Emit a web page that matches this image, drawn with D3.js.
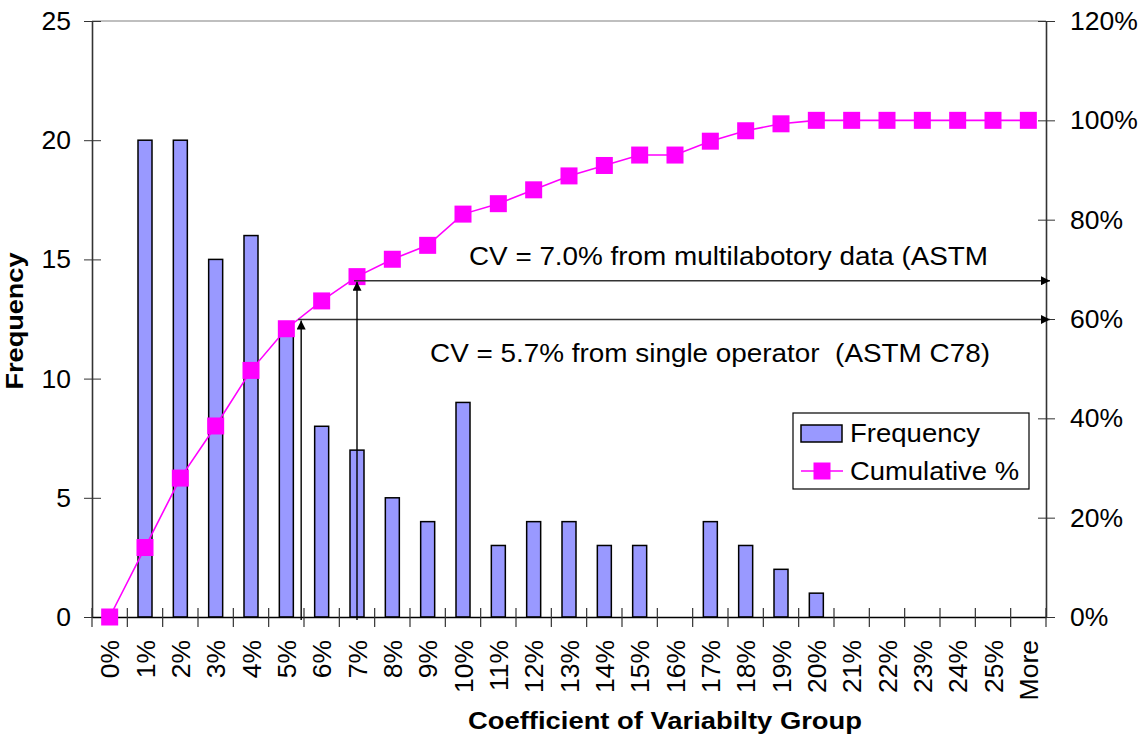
<!DOCTYPE html>
<html>
<head>
<meta charset="utf-8">
<script src="https://cdn.jsdelivr.net/npm/d3@7"></script>
<style>
  body { margin: 0; background: #fff; }
  svg { font-family: "Liberation Sans", Arial, sans-serif; }
  text { white-space: pre; }
</style>
</head>
<body>
<svg id="chart" width="1146" height="749"></svg>
<script>
// histogram of CV groups + cumulative %
var categories = ["0%","1%","2%","3%","4%","5%","6%","7%","8%","9%","10%","11%","12%","13%",
                  "14%","15%","16%","17%","18%","19%","20%","21%","22%","23%","24%","25%","More"];
var frequency = [0,20,20,15,16,12,8,7,5,4,9,3,4,4,3,3,0,4,3,2,1,0,0,0,0,0,0];
var cumulative = [0,13.99,27.97,38.46,49.65,58.04,63.64,68.53,72.03,74.83,81.12,83.22,86.01,88.81,
                  90.91,93.01,93.01,95.80,97.90,99.30,100,100,100,100,100,100,100];
var leftTicks = [0,5,10,15,20,25];
var rightTicks = [0,20,40,60,80,100,120];

// annotation arrows: x in category index units, y in cumulative %
var notes = [
  { idx: 5.42, pct: 59.9, label: "CV = 5.7% from single operator  (ASTM C78)" },
  { idx: 7.0,  pct: 67.7, label: "CV = 7.0% from multilabotory data (ASTM" }
];

var svg = d3.select("#chart");
var L = 92, R = 1046, T = 21, B = 617;

var x = d3.scaleBand().domain(categories).range([L, R]).padding(0);
var xi = d3.scaleLinear().domain([0, 1]).range([L + x.bandwidth() / 2, L + x.bandwidth() * 1.5]);
var yL = d3.scaleLinear().domain([0, 25]).range([B, T]);
var yR = d3.scaleLinear().domain([0, 120]).range([B, T]);

// top border
svg.append("line").attr("x1", L).attr("x2", R).attr("y1", T).attr("y2", T)
  .attr("stroke", "#808080").attr("stroke-width", 1.2);

// bars
var barW = 14;
svg.append("g").selectAll("rect")
  .data(frequency.map(function(v, i){ return { c: categories[i], v: v }; }).filter(function(d){ return d.v > 0; }))
  .enter().append("rect")
  .attr("x", function(d){ return x(d.c) + x.bandwidth() / 2 - barW / 2; })
  .attr("y", function(d){ return yL(d.v); })
  .attr("width", barW)
  .attr("height", function(d){ return B - yL(d.v); })
  .attr("fill", "#9999FF")
  .attr("stroke", "#000")
  .attr("stroke-width", 1.5);

// left axis
var gl = svg.append("g").attr("transform", "translate(" + L + ",0)")
  .call(d3.axisLeft(yL).tickValues(leftTicks).tickSize(0).tickPadding(21));
gl.select(".domain").attr("stroke", "#333").attr("stroke-width", 1.6);
gl.selectAll(".tick line").attr("x1", -8).attr("x2", 9).attr("stroke", "#333");
gl.selectAll(".tick text").attr("font-size", 26.5).attr("fill", "#000").attr("font-family", "Liberation Sans, Arial");

// right axis
var gr = svg.append("g").attr("transform", "translate(" + R + ",0)")
  .call(d3.axisRight(yR).tickValues(rightTicks).tickFormat(function(d){ return d + "%"; }).tickSize(0).tickPadding(24));
gr.select(".domain").attr("stroke", "#333").attr("stroke-width", 1.6);
gr.selectAll(".tick line").attr("x1", -8).attr("x2", 9).attr("stroke", "#333");
gr.selectAll(".tick text").attr("font-size", 26.5).attr("fill", "#000").attr("font-family", "Liberation Sans, Arial");

// bottom axis
var gb = svg.append("g").attr("transform", "translate(0," + B + ")")
  .call(d3.axisBottom(x).tickSize(0));
gb.select(".domain").attr("stroke", "#000").attr("stroke-width", 1.5);
gb.selectAll(".tick text")
  .attr("font-size", 26.5).attr("fill", "#000").attr("font-family", "Liberation Sans, Arial")
  .attr("text-anchor", "end")
  .attr("transform", "translate(0,23) rotate(-90)")
  .attr("x", 0).attr("y", 0).attr("dy", "0.36em");
var edges = categories.map(function(c){ return x(c); }).concat([R]);
gb.selectAll(".edge").data(edges).enter().append("line")
  .attr("class", "edge")
  .attr("x1", function(d){ return d; }).attr("x2", function(d){ return d; })
  .attr("y1", -9).attr("y2", 10)
  .attr("stroke", "#333").attr("stroke-width", 1.2);

// cumulative line
var line = d3.line()
  .x(function(d, i){ return xi(i); })
  .y(function(d){ return yR(d); });
svg.append("path").datum(cumulative)
  .attr("d", line).attr("fill", "none")
  .attr("stroke", "#FF00FF").attr("stroke-width", 1.6);
var ms = 17;
svg.append("g").selectAll("rect").data(cumulative).enter().append("rect")
  .attr("x", function(d, i){ return xi(i) - ms / 2; })
  .attr("y", function(d){ return yR(d) - ms / 2; })
  .attr("width", ms).attr("height", ms)
  .attr("fill", "#FF00FF");

// annotation arrows
var defs = svg.append("defs");
defs.append("marker").attr("id", "ah")
  .attr("viewBox", "0 0 10 10").attr("refX", 10).attr("refY", 5)
  .attr("markerWidth", 10).attr("markerHeight", 9)
  .attr("markerUnits", "userSpaceOnUse")
  .attr("orient", "auto")
  .append("path").attr("d", "M0,0 L10,5 L0,10 Z").attr("fill", "#000");

var ga = svg.append("g");
notes.forEach(function(n){
  var ax = xi(n.idx), ay = yR(n.pct);
  ga.append("line").attr("x1", ax).attr("x2", ax).attr("y1", B + 3).attr("y2", ay + 1)
    .attr("stroke", "#000").attr("stroke-width", 1.4).attr("marker-end", "url(#ah)");
  ga.append("line").attr("x1", ax - 3).attr("x2", R + 4).attr("y1", ay).attr("y2", ay)
    .attr("stroke", "#333").attr("stroke-width", 1.4).attr("marker-end", "url(#ah)");
});

ga.append("text").attr("x", 469).attr("y", 265).attr("font-size", 26.5).attr("fill", "#000")
  .attr("textLength", 519).attr("lengthAdjust", "spacingAndGlyphs")
  .text(notes[1].label);
ga.append("text").attr("x", 430).attr("y", 362).attr("font-size", 26.5).attr("fill", "#000")
  .attr("textLength", 560).attr("lengthAdjust", "spacingAndGlyphs")
  .text(notes[0].label);

// axis titles
svg.append("text")
  .attr("transform", "translate(23," + ((T + B) / 2 + 2) + ") rotate(-90)")
  .attr("text-anchor", "middle").attr("font-weight", "bold").attr("font-size", 24)
  .attr("textLength", 137).attr("lengthAdjust", "spacingAndGlyphs")
  .text("Frequency");
svg.append("text")
  .attr("x", 665).attr("y", 729)
  .attr("text-anchor", "middle").attr("font-weight", "bold").attr("font-size", 24)
  .attr("textLength", 394).attr("lengthAdjust", "spacingAndGlyphs")
  .text("Coefficient of Variabilty Group");

// legend
var lg = svg.append("g").attr("transform", "translate(793,413)");
lg.append("rect").attr("width", 236).attr("height", 76)
  .attr("fill", "#fff").attr("stroke", "#000").attr("stroke-width", 1.2);
lg.append("rect").attr("x", 8).attr("y", 12).attr("width", 41).attr("height", 17)
  .attr("fill", "#9999FF").attr("stroke", "#000").attr("stroke-width", 1.5);
lg.append("text").attr("x", 57).attr("y", 29).attr("font-size", 26.5)
  .attr("textLength", 130).attr("lengthAdjust", "spacingAndGlyphs").text("Frequency");
lg.append("line").attr("x1", 8).attr("x2", 50).attr("y1", 58).attr("y2", 58)
  .attr("stroke", "#FF00FF").attr("stroke-width", 1.6);
lg.append("rect").attr("x", 29 - ms / 2).attr("y", 58 - ms / 2).attr("width", ms).attr("height", ms)
  .attr("fill", "#FF00FF");
lg.append("text").attr("x", 57).attr("y", 67).attr("font-size", 26.5)
  .attr("textLength", 169).attr("lengthAdjust", "spacingAndGlyphs").text("Cumulative %");
</script>
</body>
</html>
